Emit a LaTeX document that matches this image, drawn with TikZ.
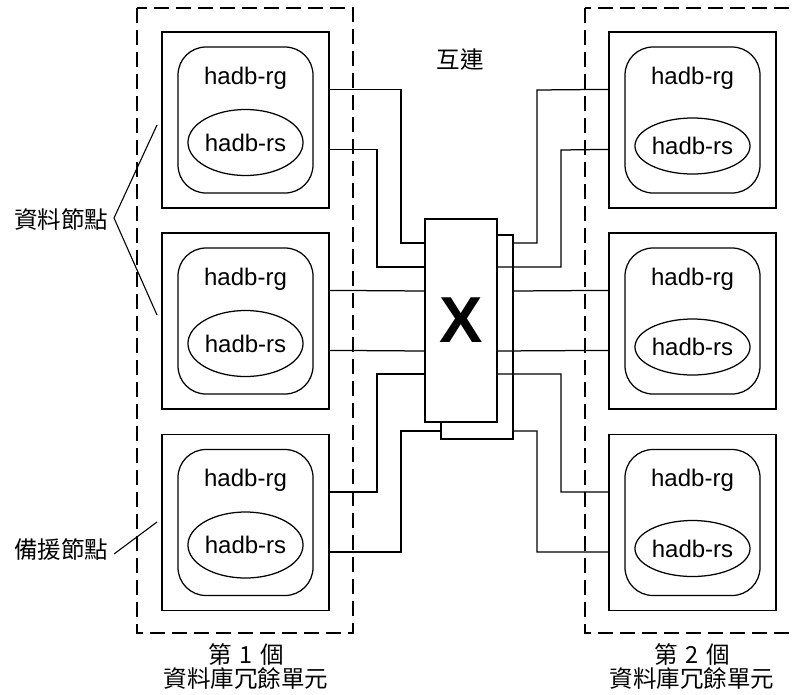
\documentclass[tikz,border=0pt]{standalone}
\usepackage{fontspec}
\setmainfont{Liberation Sans}
\newfontfamily\cjk{Noto Sans CJK TC}
\usetikzlibrary{shapes.geometric,calc}
\begin{document}
\begin{tikzpicture}[x=1pt,y=-1pt,line width=1.25pt,
  sq/.style={draw,minimum width=167pt,minimum height=176pt,inner sep=0pt},
  rgbox/.style={draw,rounded corners=28pt,minimum width=135pt,minimum height=146pt,inner sep=0pt},
  rsell/.style={draw,ellipse,minimum width=104pt,inner sep=0pt,font=\fontsize{24}{27}\selectfont},
  rgtext/.style={inner sep=0pt,font=\fontsize{24}{27}\selectfont},
  cjklabel/.style={inner sep=0pt,font=\cjk\fontsize{23.5}{28}\selectfont},
  dashbox/.style={draw,dash pattern=on 15pt off 7pt,line width=1.2pt},
  swbox/.style={draw,fill=white,minimum width=72pt,minimum height=203pt,inner sep=0pt}]
\useasboundingbox (0,0) rectangle (793,694);
\clip (0,0) rectangle (793,694);
% redundancy units
\draw[dashbox] (137,8) rectangle (353,633);
\draw[dashbox] (585,8) rectangle (810,633);
% nodes
\foreach \n/\x/\y/\d/\h in {L1/245.5/120/22.5/66, L2/245.5/321/22.5/66, L3/245.5/522.5/22.5/66,
                           R1/692.5/120/26/56, R2/692.5/321/26/56, R3/692.5/522.5/26/56}{
  \node[sq] (\n) at (\x,\y) {};
  \node[rgbox] (G\n) at (\n.center) {};
  \node[rgtext] (T\n) at ($(\n.center)+(0,-42)$) {hadb-rg};
  \node[rsell,minimum height=\h pt] (E\n) at ($(\n.center)+(0,\d)$) {hadb-rs};
}
% switch
\node[swbox,minimum height=204pt] (B) at (477,337) {};
\node[swbox] (F) at (461,320.5) {};
\node[inner sep=0pt,font=\bfseries\fontsize{65}{70}\selectfont] (X) at (F.center) {X};
% left connectors
\draw ([yshift=-58pt]L1.north east) -| (401,243) -- (F.west |- 0,243);
\draw ([yshift=-118pt]L1.north east) -| (377,267) -- (F.west |- 0,267);
\draw ([yshift=-58pt]L2.north east) -- (F.west |- 0,291);
\draw ([yshift=-118pt]L2.north east) -- (F.west |- 0,351);
\draw ([yshift=-58pt]L3.north east) -| (377,374) -- (F.west |- 0,374);
\draw ([yshift=-118pt]L3.north east) -| (401,431) -- (B.west |- 0,431);
% right connectors
\draw (B.east |- 0,243) -| (537,90) -- ([yshift=-58pt]R1.north west);
\draw (F.east |- 0,267) -| (561,150) -- ([yshift=-118pt]R1.north west);
\draw (B.east |- 0,291) -- ([yshift=-58pt]R2.north west);
\draw (F.east |- 0,351) -- ([yshift=-118pt]R2.north west);
\draw (F.east |- 0,374) -| (561,492) -- ([yshift=-58pt]R3.north west);
\draw (B.east |- 0,431) -| (537,552) -- ([yshift=-118pt]R3.north west);
% labels
\node[cjklabel] (IC) at (460,60) {互連};
\node[cjklabel] (DN) at (61,220) {資料節點};
\node[cjklabel] (SN) at (61,550) {備援節點};
\coordinate (DNa) at (114,218);
\coordinate (DNu) at (157,125);
\coordinate (DNl) at (157,315);
\coordinate (SNa) at (114,554);
\coordinate (SNu) at (157,522);
\draw[line width=1.1pt] (DNu) -- (DNa) -- (DNl);
\draw[line width=1.1pt] (SNa) -- (SNu);
\node[cjklabel] (U1a) at (246,654) {第\hspace{8pt}1\hspace{7pt}個};
\node[cjklabel] (U1b) at (246,678) {資料庫冗餘單元};
\node[cjklabel] (U2a) at (692,654) {第\hspace{8pt}2\hspace{7pt}個};
\node[cjklabel] (U2b) at (692,678) {資料庫冗餘單元};
\end{tikzpicture}
\end{document}
